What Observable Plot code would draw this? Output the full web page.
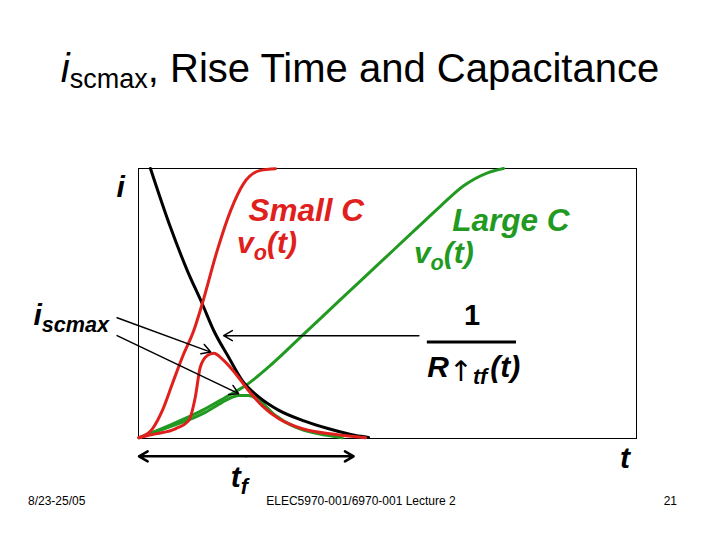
<!DOCTYPE html>
<html>
<head>
<meta charset="utf-8">
<script src="https://cdn.jsdelivr.net/npm/d3@7"></script>
<script src="https://cdn.jsdelivr.net/npm/@observablehq/plot@0.6"></script>
<style>
  html, body { margin: 0; padding: 0; background: white; }
  #slide { position: relative; width: 720px; height: 540px; overflow: hidden; font-family: "Liberation Sans", Arial, sans-serif; }
  #slide svg { position: absolute; left: 0; top: 0; }
  .htxt { position: absolute; white-space: nowrap; color: black; }
  #title { left: 0; width: 720px; top: 48px; text-align: center; font-size: 40px; line-height: 40px; }
  #title sub { font-size: 27px; vertical-align: -6px; }
  .foot { top: 495px; font-size: 12px; line-height: 12px; }
</style>
</head>
<body>
<div id="slide">
  <div id="title" class="htxt"><i>i</i><sub>scmax</sub>, Rise Time and Capacitance</div>
  <div class="htxt foot" style="left:28px">8/23-25/05</div>
  <div class="htxt foot" style="left:0;width:722px;text-align:center">ELEC5970-001/6970-001 Lecture 2</div>
  <div class="htxt foot" style="right:43px">21</div>
</div>
<script>
// ---- data (time t, value), arbitrary units 0..100 ----
const currentRC = [ // black: 1 / R(t)
  [2.4, 100], [6.4, 78.3], [9.8, 62.2], [12.8, 49.9], [15.1, 40.0], [18.1, 30.1],
  [20.8, 21.5], [24.2, 15.3], [28.2, 10.4], [32.9, 6.7], [38.2, 3.6], [43.6, 1.1], [46.2, 0.4]
];
const smallCVoltage = [ // red vo(t)
  [0.1, 0.3], [2.8, 3.6], [4.8, 10.4], [6.8, 20.3], [8.8, 30.1], [11.1, 40.0], [12.8, 49.9],
  [15.8, 69.6], [18.5, 84.4], [21.1, 94.4], [24.5, 99.3], [27.5, 99.9]
];
const smallCCurrent = [ // red isc(t)
  [0.1, 0.3], [3.4, 1.7], [7.4, 3.6], [10.1, 6.7], [11.4, 15.3], [12.4, 26.4], [13.8, 30.7],
  [15.1, 31.6], [17.1, 28.9], [19.5, 24.0], [22.1, 17.8], [24.8, 12.2], [28.2, 7.3],
  [32.9, 3.6], [39.6, 1.5], [45.6, 0.3]
];
const largeCVoltage = [ // green vo(t)
  [0.1, 0.3], [6.1, 4.8], [12.8, 10.4], [17.5, 15.3], [21.5, 19.6], [26.2, 26.6], [33.5, 39.2],
  [40.6, 51.5], [48.6, 65.3], [55.2, 76.7], [60.6, 86.0], [65.3, 93.6], [70.1, 98.4], [73.3, 100]
];
const largeCCurrent = [ // green isc(t)
  [0.1, 0.3], [6.1, 4.2], [12.8, 9.1], [16.8, 13.4], [18.1, 14.7], [20.1, 15.9], [22.1, 15.9],
  [24.2, 14.1], [27.5, 8.5], [31.5, 4.2], [36.2, 1.7], [40.9, 0.3]
];

// ---- annotations ----
const pointerArrows = [
  {x1: -4.3, y1: 44.7, x2: 14.5, y2: 32.0},
  {x1: -4.3, y1: 38.1, x2: 20.1, y2: 16.6},
  {x1: 56.3, y1: 38.1, x2: 17.1, y2: 38.1}
];
const fallSpan = {from: 0.1, to: 43.2, mid: 21.6, level: -6.6};
const fractionBar = {x1: 58.0, x2: 75.9, y: 35.7};
const redHeads = [{x: 22.1, y: 80.7, text: "Small C"}];
const redLabels = [{x: 19.8, y: 68.6, text: "v[o](t)"}];
const greenHeads = [{x: 63.0, y: 76.8, text: "Large C"}];
const greenLabels = [{x: 55.3, y: 64.9, text: "v[o](t)"}];
const blackLabels = [
  {x: -4.4, y: 89.6, text: "i"},
  {x: -21.1, y: 41.9, text: "i[scmax]"},
  {x: 18.5, y: -18.1, text: "t[f]"},
  {x: 58.0, y: 22.6, text: "R{↑}[tf]|(t)"}
];
const plainLabels = [{x: 67.0, y: 41.9, text: "1"}];
const timeLabel = [{x: 97.7, y: -11.1, text: "t"}];

const RED = "#e0201c", GREEN = "#229a22";
const curve = "monotone-x";
const labelFont = {fontSize: 30, fontWeight: "bold", fontStyle: "italic", lineAnchor: "bottom"};
const headFont = {...labelFont, fontSize: 31.5};

const chart = Plot.plot({
  width: 720, height: 540,
  marginLeft: 138, marginRight: 84, marginTop: 168, marginBottom: 102,
  x: {domain: [0, 100], axis: null},
  y: {domain: [0, 100], axis: null},
  style: {overflow: "visible", fontFamily: "'Liberation Sans', Arial, sans-serif", background: "transparent"},
  marks: [
    Plot.frame({stroke: "black", strokeWidth: 1}),
    Plot.line(largeCVoltage, {stroke: GREEN, strokeWidth: 3, curve}),
    Plot.line(largeCCurrent, {stroke: GREEN, strokeWidth: 3, curve}),
    Plot.line(currentRC, {stroke: "black", strokeWidth: 3, curve}),
    Plot.line(smallCVoltage, {stroke: RED, strokeWidth: 3, curve}),
    Plot.line(smallCCurrent, {stroke: RED, strokeWidth: 3, curve}),
    Plot.arrow(pointerArrows, {x1: "x1", y1: "y1", x2: "x2", y2: "y2", stroke: "black", strokeWidth: 1.5, headLength: 10}),
    Plot.arrow([fallSpan], {x1: "mid", x2: "from", y1: "level", y2: "level", stroke: "black", strokeWidth: 2.5, headLength: 6}),
    Plot.arrow([fallSpan], {x1: "mid", x2: "to", y1: "level", y2: "level", stroke: "black", strokeWidth: 2.5, headLength: 6}),
    Plot.ruleY([fractionBar], {y: "y", x1: "x1", x2: "x2", stroke: "black", strokeWidth: 3}),
    Plot.text(redHeads, {x: "x", y: "y", text: "text", fill: RED, textAnchor: "start", ...headFont}),
    Plot.text(redLabels, {x: "x", y: "y", text: "text", fill: RED, textAnchor: "start", ...labelFont}),
    Plot.text(greenHeads, {x: "x", y: "y", text: "text", fill: GREEN, textAnchor: "start", ...headFont}),
    Plot.text(greenLabels, {x: "x", y: "y", text: "text", fill: GREEN, textAnchor: "start", ...labelFont}),
    Plot.text(blackLabels, {x: "x", y: "y", text: "text", fill: "black", textAnchor: "start", ...labelFont}),
    Plot.text(timeLabel, {x: "x", y: "y", text: "text", fill: "black", textAnchor: "middle", ...labelFont}),
    Plot.text(plainLabels, {x: "x", y: "y", text: "text", fill: "black", textAnchor: "middle", fontSize: 29, fontWeight: "bold", lineAnchor: "bottom"})
  ]
});

const slide = document.getElementById("slide");
slide.insertBefore(chart, slide.firstChild);

// rich text: [..] subscript, {..} upright thin glyph, | small gap
(function enrich(root) {
  const ns = "http://www.w3.org/2000/svg";
  root.querySelectorAll("text").forEach(el => {
    const s = el.textContent;
    if (!/[\[{|]/.test(s)) return;
    const base = parseFloat(getComputedStyle(el).fontSize) || 30;
    el.textContent = "";
    let shift = 0, gap = 0;
    for (const m of s.matchAll(/\[([^\]]*)\]|\{([^}]*)\}|(\|)|([^\[{|]+)/g)) {
      if (m[3] !== undefined) { gap += base * 0.1; continue; }
      const ts = document.createElementNS(ns, "tspan");
      let target = 0;
      if (m[1] !== undefined) {
        ts.textContent = m[1];
        ts.setAttribute("font-size", (base * 0.72).toFixed(1));
        target = base * 0.22;
      } else if (m[2] !== undefined) {
        ts.textContent = m[2];
        ts.setAttribute("font-family", "'DejaVu Sans', sans-serif");
        ts.setAttribute("font-weight", "normal");
        ts.setAttribute("font-style", "normal");
        ts.setAttribute("font-size", (base * 0.95).toFixed(1));
        target = base * 0.12;
      } else {
        ts.textContent = m[4];
      }
      const dy = target - shift;
      if (Math.abs(dy) > 0.01) ts.setAttribute("dy", dy.toFixed(2));
      if (gap) { ts.setAttribute("dx", gap.toFixed(2)); gap = 0; }
      shift = target;
      el.appendChild(ts);
    }
  });
})(chart);
</script>
</body>
</html>
